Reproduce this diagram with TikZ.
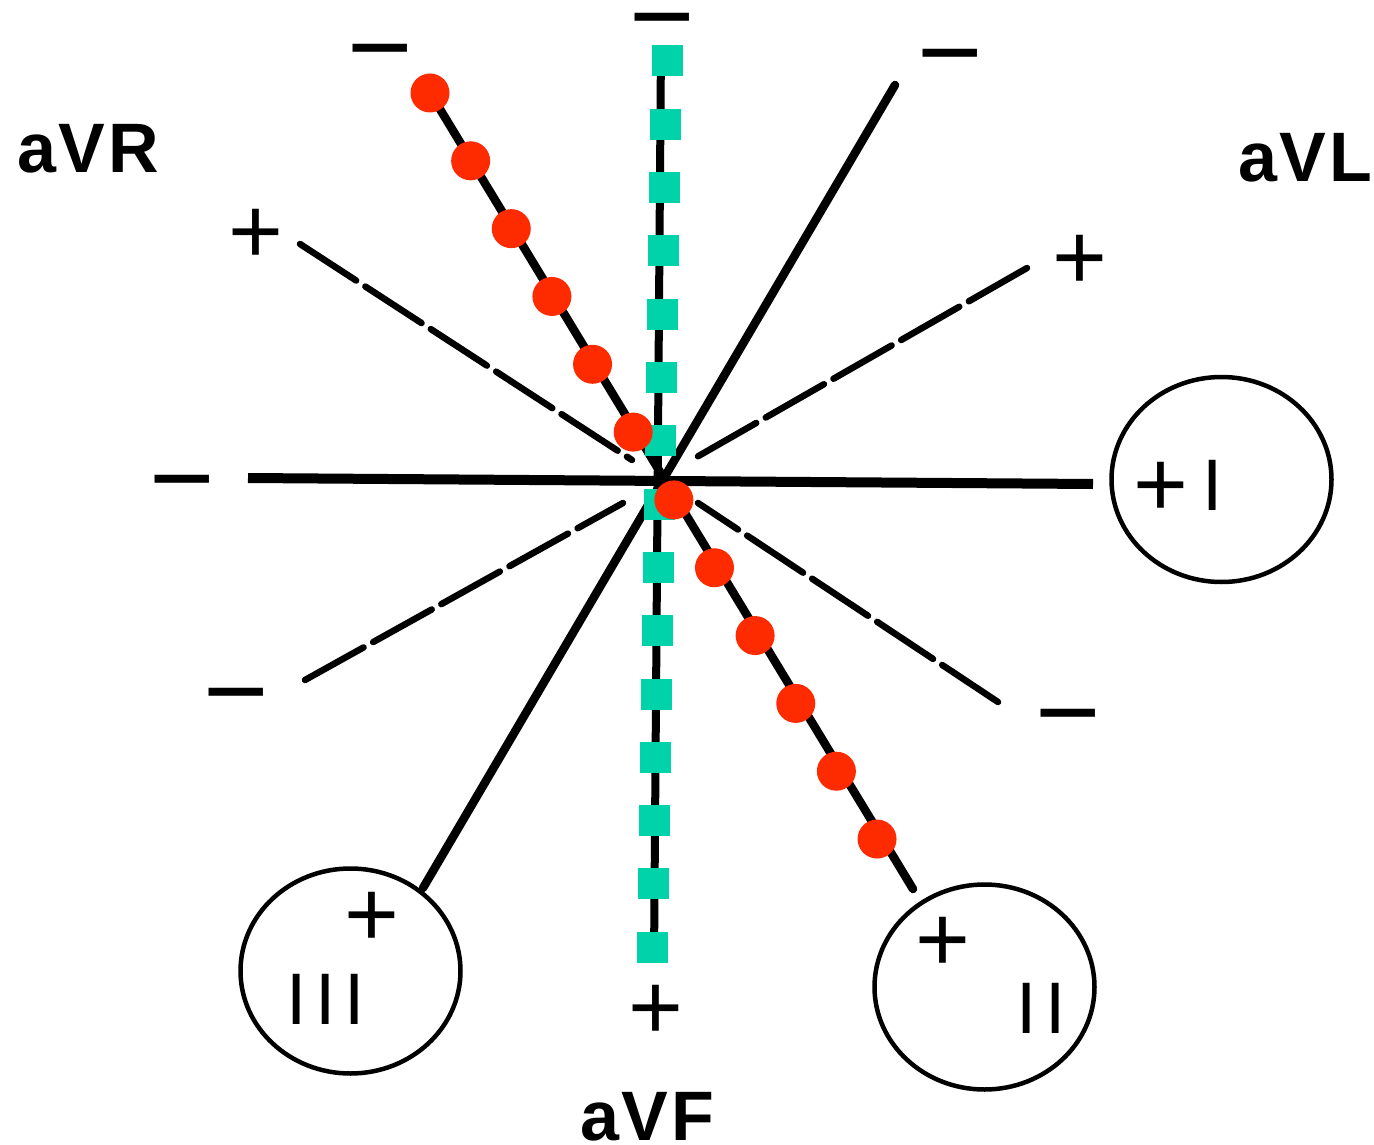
\documentclass[tikz,border=0pt]{standalone}
\usepackage{fontspec}
\setmainfont{Liberation Sans}
\newfontfamily\romanfont[LetterSpace=12]{Liberation Sans}
\newfontfamily\namefont[LetterSpace=4]{Liberation Sans}
\usetikzlibrary{shapes.geometric}

\definecolor{dotred}{RGB}{255,43,0}
\definecolor{markteal}{RGB}{0,210,170}

\tikzset{
  limblead/.style={line width=8.5pt, line cap=round},
  leadone/.style={line width=10pt},
  augmented/.style={line width=6.5pt, dash pattern=on 67pt off 11pt, line cap=round},
  ring/.style={ellipse, draw, line width=4.5pt, inner sep=0pt,
    minimum width=220pt, minimum height=205pt},
  plussign/.style={inner sep=0pt, anchor=base, yshift=-33pt,
    font=\fontsize{94}{94}\selectfont},
  minussign/.style={inner sep=0pt, anchor=base, yshift=-39pt,
    font=\fontsize{112}{112}\selectfont},
  leadname/.style={inner sep=0pt, anchor=base,
    font=\namefont\fontsize{70}{70}\selectfont\bfseries},
  romanlabel/.style={inner sep=0pt, anchor=base,
    font=\romanfont\fontsize{73}{73}\selectfont},
  reddot/.style={circle, fill=dotred, inner sep=0pt, minimum size=39pt},
  tealsquare/.style={rectangle, fill=markteal, inner sep=0pt, minimum size=31pt},
}

\begin{document}
\begin{tikzpicture}[x=1pt, y=-1pt]
\useasboundingbox (0,0) rectangle (1374,1145);

% lead end points
\coordinate (Iw)   at (248,478);
\coordinate (Ie)   at (1093,484);
\coordinate (IIn)  at (432,96);
\coordinate (IIs)  at (913,889);
\coordinate (IIIn) at (895,85);
\coordinate (IIIs) at (423,888);
\coordinate (Fn)   at (661,46);
\coordinate (Fs)   at (654,960);
\coordinate (Ra)   at (300,244);
\coordinate (Rb)   at (632,460);
\coordinate (Rc)   at (698,503);
\coordinate (Rd)   at (998,702);
\coordinate (La)   at (1027,268);
\coordinate (Lb)   at (695,458);
\coordinate (Lc)   at (623,503);
\coordinate (Ld)   at (305,680);

% electrode rings
\node[ring] (ringI)   at (1221.5,479.5) {};
\node[ring] (ringII)  at (984.5,987) {};
\node[ring] (ringIII) at (350.5,971) {};

% bipolar limb leads
\draw[leadone]  (Iw) -- (Ie);
\draw[limblead] (IIn) -- (IIs);
\draw[limblead] (IIIn) -- (IIIs);

% augmented leads
\draw[line width=8pt] (Fn) -- (Fs);
\draw[augmented] (Ra) -- (Rb);
\draw[augmented] (Rd) -- (Rc);
\draw[augmented] (La) -- (Lb);
\draw[augmented] (Ld) -- (Lc);

% aVF axis markers
\foreach \i in {0,...,14}
  \node[tealsquare] (sq\i) at ({667-1.07*\i},{61+63.3*\i}) {};

% lead II axis markers
\foreach \i in {0,...,11}
  \node[reddot] (dot\i) at ({430+40.64*\i},{93+67.82*\i}) {};

% polarity signs
\node[minussign] (mF)   at (662,16)  {−};
\node[minussign] (mII)  at (380,47)  {−};
\node[minussign] (mIII) at (950,52)  {−};
\node[minussign] (mI)   at (182,477) {−};
\node[minussign] (mL)   at (236,690) {−};
\node[minussign] (mR)   at (1068,711) {−};

\node[plussign] (pR)   at (256,230)  {+};
\node[plussign] (pL)   at (1080,256) {+};
\node[plussign] (pF)   at (656,1006) {+};
\node[plussign] (pIII) at (372,913)  {+};
\node[plussign] (pII)  at (943,938)  {+};
\node[plussign] (pI)   at (1161,483) {+};

% lead names
\node[romanlabel] (tI)   at (1213,510)  {I};
\node[romanlabel] (tII)  at (1041,1033) {II};
\node[romanlabel] (tIII) at (326,1024)  {III};

\node[leadname] (tR) at (88,173)   {aVR};
\node[leadname] (tL) at (1305,182) {aVL};
\node[leadname] (tF) at (647,1140) {aVF};
\end{tikzpicture}
\end{document}
